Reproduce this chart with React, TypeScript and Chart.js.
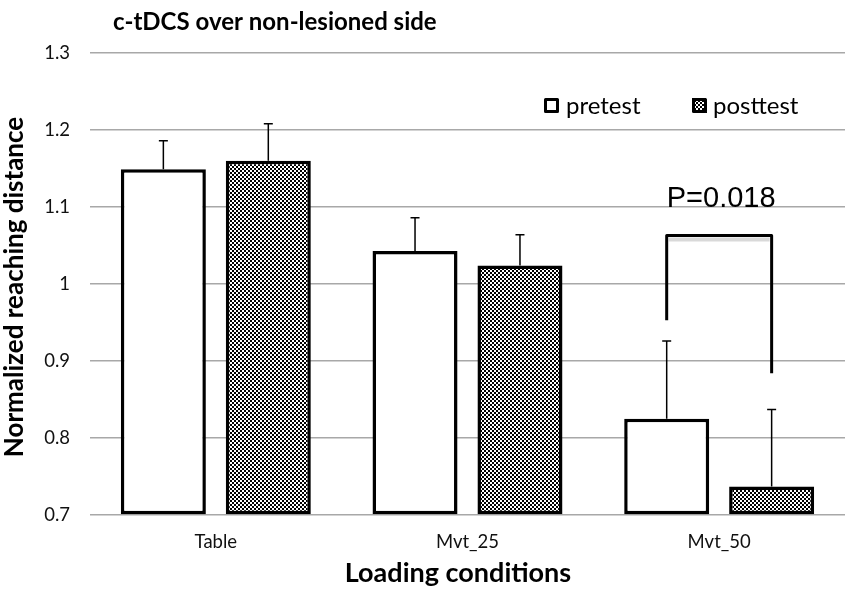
import React, { useEffect, useRef } from "react";
import { Chart, registerables } from "chart.js";

Chart.register(...registerables);

// ---- data ----
const categories = ["Table", "Mvt_25", "Mvt_50"];
const seriesNames = ["pretest", "posttest"];
const pretest = [1.149, 1.043, 0.825];
const posttest = [1.16, 1.024, 0.737];
const pretestErr = [0.037, 0.043, 0.101];
const posttestErr = [0.048, 0.04, 0.1];
const yMin = 0.7;
const yMax = 1.3;
const yStep = 0.1;
// significance bracket on Mvt_50 (value-axis units)
const bracketCategory = 2;
const bracketTop = 1.063;
const bracketLeftEnd = 0.953;
const bracketRightEnd = 0.884;
const pLabel = "P=0.018";

const titleText = "c-tDCS over non-lesioned side";
const yTitle = "Normalized reaching distance";
const xTitle = "Loading conditions";

const UI_FONT = "Lato, 'Open Sans', sans-serif";

function makePattern(): CanvasPattern | string {
  const c = document.createElement("canvas");
  c.width = 4;
  c.height = 4;
  const g = c.getContext("2d");
  if (!g) return "#555";
  g.fillStyle = "#000";
  g.fillRect(0, 0, 4, 4);
  g.fillStyle = "#fff";
  g.fillRect(0, 0, 2, 2);
  g.fillRect(2, 2, 2, 2);
  return g.createPattern(c, "repeat") || "#555";
}

export default function App() {
  const ref = useRef<HTMLCanvasElement | null>(null);

  useEffect(() => {
    document.body.style.margin = "0";
    const canvas = ref.current;
    if (!canvas) return;
    const pattern = makePattern();
    const errs = [pretestErr, posttestErr];

    const overlay = {
      id: "overlay",
      afterDatasetsDraw(chart: any) {
        const ctx = chart.ctx as CanvasRenderingContext2D;
        const y = chart.scales.y;
        ctx.save();
        // error bars (upper only)
        chart.data.datasets.forEach((ds: any, di: number) => {
          const meta = chart.getDatasetMeta(di);
          meta.data.forEach((bar: any, i: number) => {
            const v = ds.data[i];
            const top = y.getPixelForValue(v + errs[di][i]);
            const base = y.getPixelForValue(v);
            ctx.strokeStyle = "#000";
            ctx.lineWidth = 1.5;
            ctx.beginPath();
            ctx.moveTo(bar.x, base);
            ctx.lineTo(bar.x, top);
            ctx.moveTo(bar.x - 4.5, top);
            ctx.lineTo(bar.x + 4.5, top);
            ctx.stroke();
          });
        });
        // bracket
        const b0 = chart.getDatasetMeta(0).data[bracketCategory];
        const b1 = chart.getDatasetMeta(1).data[bracketCategory];
        const yt = y.getPixelForValue(bracketTop);
        const yl = y.getPixelForValue(bracketLeftEnd);
        const yr = y.getPixelForValue(bracketRightEnd);
        // faint shadow under top line
        ctx.strokeStyle = "rgba(0,0,0,0.15)";
        ctx.lineWidth = 4;
        ctx.beginPath();
        ctx.moveTo(b0.x + 2, yt + 4);
        ctx.lineTo(b1.x - 2, yt + 4);
        ctx.stroke();
        ctx.strokeStyle = "#000";
        ctx.lineWidth = 3;
        ctx.lineJoin = "round";
        ctx.beginPath();
        ctx.moveTo(b0.x, yl);
        ctx.lineTo(b0.x, yt);
        ctx.lineTo(b1.x, yt);
        ctx.lineTo(b1.x, yr);
        ctx.stroke();
        // p label
        ctx.fillStyle = "#000";
        ctx.font = "29px 'Liberation Sans', Arial, sans-serif";
        ctx.textAlign = "center";
        ctx.textBaseline = "alphabetic";
        ctx.fillText(pLabel, (b0.x + b1.x) / 2 + 2, yt - 28);

        // legend
        const boxes = [
          { x: 544, fill: "#fff" as any },
          { x: 692, fill: pattern as any },
        ];
        const textX = [566, 713];
        boxes.forEach((bx, i) => {
          ctx.fillStyle = bx.fill;
          ctx.fillRect(bx.x, 98, 15, 15);
          ctx.strokeStyle = "#000";
          ctx.lineWidth = 3;
          ctx.strokeRect(bx.x + 1.5, 99.5, 12, 12);
          ctx.fillStyle = "#000";
          ctx.font = `24px ${UI_FONT}`;
          ctx.textAlign = "left";
          ctx.textBaseline = "middle";
          ctx.fillText(seriesNames[i], textX[i], 106);
        });
        ctx.restore();
      },
      afterDraw(chart: any) {
        const ctx = chart.ctx as CanvasRenderingContext2D;
        ctx.save();
        ctx.fillStyle = "#000";
        ctx.font = `bold 24px ${UI_FONT}`;
        ctx.textAlign = "left";
        ctx.textBaseline = "middle";
        ctx.fillText(titleText, 113, 22);

        ctx.font = `bold 27px ${UI_FONT}`;
        ctx.textAlign = "center";
        ctx.fillText(xTitle, 458, 573);

        ctx.translate(15, 287);
        ctx.rotate(-Math.PI / 2);
        ctx.font = `bold 26px ${UI_FONT}`;
        ctx.fillText(yTitle, 0, 0);
        ctx.restore();
      },
    };

    const chart = new Chart(canvas, {
      type: "bar",
      data: {
        labels: categories,
        datasets: [
          {
            label: seriesNames[0],
            data: pretest,
            backgroundColor: "#fff",
            borderColor: "#000",
            borderWidth: 3.5,
            borderSkipped: false,
            base: yMin,
          } as any,
          {
            label: seriesNames[1],
            data: posttest,
            backgroundColor: pattern as any,
            borderColor: "#000",
            borderWidth: 3.5,
            borderSkipped: false,
            base: yMin,
          } as any,
        ],
      },
      options: {
        animation: false,
        responsive: true,
        maintainAspectRatio: false,
        layout: { padding: { top: 53, right: 5, left: 0, bottom: 0 } },
        datasets: { bar: { categoryPercentage: 0.834, barPercentage: 0.81 } },
        plugins: {
          legend: { display: false },
          title: { display: false },
          tooltip: { enabled: false },
        },
        scales: {
          x: {
            grid: { display: false, drawTicks: false },
            border: { display: false },
            ticks: {
              padding: 16,
              color: "#111",
              font: { family: UI_FONT, size: 18.5 },
            },
            afterFit(scale: any) {
              scale.height = 81;
            },
          },
          y: {
            min: yMin,
            max: yMax,
            grid: { color: "#a8a8a8", lineWidth: 1.5, drawTicks: false },
            border: { display: false },
            ticks: {
              stepSize: yStep,
              padding: 20,
              color: "#111",
              font: { family: UI_FONT, size: 18.5 },
              callback: (v: any) => String(Number(Number(v).toFixed(1))),
            },
            afterFit(scale: any) {
              scale.width = 90;
            },
          },
        },
      },
      plugins: [overlay],
    });
    return () => chart.destroy();
  }, []);

  return (
    <div style={{ width: 850, height: 596, position: "relative", background: "#fff" }}>
      <canvas ref={ref} />
    </div>
  );
}
